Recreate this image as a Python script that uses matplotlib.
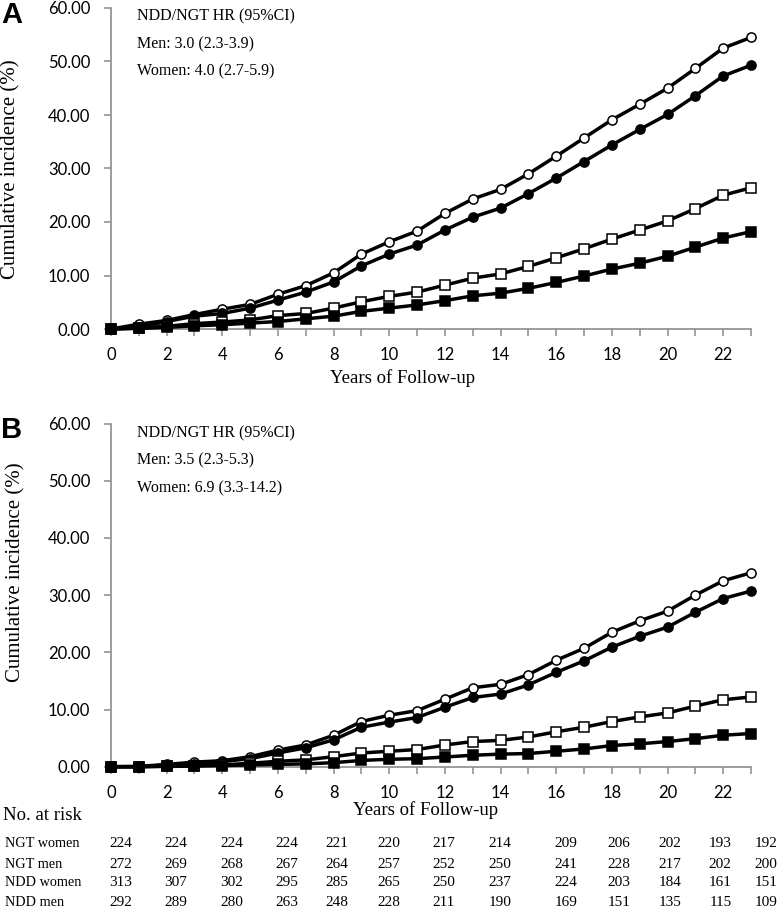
import matplotlib
matplotlib.use("Agg")
import matplotlib.pyplot as plt

W, H = 777, 907

# ===== data =====
years = list(range(24))

# panel A
a_ndd_women = [0, 0.9, 1.6, 2.7, 3.7, 4.6, 6.5, 8.1, 10.5, 14.0, 16.3, 18.3, 21.6, 24.3,
               26.1, 29.0, 32.3, 35.7, 39.1, 42.0, 45.0, 48.7, 52.5, 54.5]
a_ndd_men = [0, 0.3, 1.4, 2.4, 2.9, 3.9, 5.4, 6.9, 8.8, 11.8, 14.0, 15.7, 18.5, 20.9,
             22.6, 25.3, 28.2, 31.3, 34.4, 37.3, 40.1, 43.6, 47.3, 49.3]
a_ngt_women = [0, 0.2, 0.5, 1.0, 1.3, 1.7, 2.5, 2.9, 3.9, 5.1, 6.1, 6.9, 8.2, 9.5,
               10.3, 11.7, 13.3, 15.0, 16.8, 18.5, 20.2, 22.5, 25.0, 26.4]
a_ngt_men = [0, 0.1, 0.3, 0.6, 0.8, 1.1, 1.4, 1.9, 2.4, 3.3, 3.9, 4.5, 5.3, 6.2,
             6.7, 7.6, 8.7, 9.9, 11.2, 12.3, 13.6, 15.3, 17.0, 18.2]

# panel B
b_ndd_women = [0, 0.05, 0.4, 0.8, 1.05, 1.75, 2.9, 3.8, 5.5, 7.9, 9.0, 9.8, 11.8, 13.8,
               14.4, 16.1, 18.6, 20.7, 23.5, 25.5, 27.2, 30.0, 32.5, 33.9]
b_ndd_men = [0, 0, 0.3, 0.5, 0.9, 1.4, 2.4, 3.3, 4.7, 6.9, 7.8, 8.6, 10.4, 12.1,
             12.7, 14.3, 16.5, 18.5, 20.9, 22.8, 24.4, 27.0, 29.4, 30.7]
b_ngt_women = [0, 0, 0.1, 0.2, 0.3, 0.6, 0.95, 1.2, 1.75, 2.4, 2.7, 3.0, 3.8, 4.4,
               4.6, 5.2, 6.1, 6.9, 7.9, 8.7, 9.4, 10.6, 11.7, 12.2]
b_ngt_men = [0, 0, 0.05, 0.1, 0.2, 0.3, 0.4, 0.5, 0.7, 1.1, 1.3, 1.4, 1.7, 2.0,
             2.2, 2.3, 2.7, 3.1, 3.7, 4.0, 4.4, 4.9, 5.5, 5.8]

hr_a = ["NDD/NGT HR (95%CI)", "Men: 3.0 (2.3-3.9)", "Women: 4.0 (2.7-5.9)"]
hr_b = ["NDD/NGT HR (95%CI)", "Men: 3.5 (2.3-5.3)", "Women: 6.9 (3.3-14.2)"]

risk_groups = ["NGT women", "NGT men", "NDD women", "NDD men"]
risk_counts = [
    [224, 224, 224, 224, 221, 220, 217, 214, 209, 206, 202, 193, 192],
    [272, 269, 268, 267, 264, 257, 252, 250, 241, 228, 217, 202, 200],
    [313, 307, 302, 295, 285, 265, 250, 237, 224, 203, 184, 161, 151],
    [292, 289, 280, 263, 248, 228, 211, 190, 169, 151, 135, 115, 109],
]

SERIF = "Liberation Serif"
SANS = "Lato"
GRAY = "#8c8c8c"


def fx(px):
    return px / W


def fy(py):
    return 1 - py / H


def draw_panel(ax, series):
    for vals, marker, face in series:
        ax.plot(years, vals, color="black", lw=2.5, marker=marker, ms=6.6,
                mfc=face, mec="black", mew=1.1, clip_on=False, zorder=3)
    ax.set_xlim(0, 23)
    ax.set_ylim(0, 60)
    ax.set_xticks(range(0, 24))
    ax.set_xticklabels([str(i) if i % 2 == 0 and i < 23 else "" for i in range(24)])
    ax.set_yticks(range(0, 61, 10))
    ax.set_yticklabels(["%.2f" % v for v in range(0, 61, 10)])
    for s in ["top", "right"]:
        ax.spines[s].set_visible(False)
    for s in ["left", "bottom"]:
        ax.spines[s].set_color(GRAY)
        ax.spines[s].set_linewidth(1.2)
    ax.tick_params(axis="y", direction="out", length=5, width=1.1, color=GRAY,
                   pad=10, labelsize=12)
    ax.tick_params(axis="x", direction="out", length=5, width=1.1, color=GRAY,
                   pad=8, labelsize=12)
    for lab in ax.get_xticklabels() + ax.get_yticklabels():
        lab.set_fontfamily(SANS)
    ax.set_facecolor("none")


fig = plt.figure(figsize=(W / 100, H / 100), dpi=100)

axA = fig.add_axes([fx(111), fy(329), fx(751) - fx(111), (329 - 8) / H])
draw_panel(axA, [(a_ndd_women, "o", "white"), (a_ndd_men, "o", "black"),
                 (a_ngt_women, "s", "white"), (a_ngt_men, "s", "black")])

axB = fig.add_axes([fx(111), fy(766.7), fx(751) - fx(111), (766.7 - 423.5) / H])
draw_panel(axB, [(b_ndd_women, "o", "white"), (b_ndd_men, "o", "black"),
                 (b_ngt_women, "s", "white"), (b_ngt_men, "s", "black")])

# y labels
fig.text(fx(11), fy(169), "Cumulative incidence (%)", fontfamily=SERIF, fontsize=15,
         rotation=90, va="center", ha="center")
fig.text(fx(16), fy(572), "Cumulative incidence (%)", fontfamily=SERIF, fontsize=15,
         rotation=90, va="center", ha="center")

# panel letters
fig.text(fx(1), fy(15), "A", fontfamily="Liberation Sans", fontweight="bold",
         fontsize=21, va="center", ha="left")
fig.text(fx(1), fy(430), "B", fontfamily="Liberation Sans", fontweight="bold",
         fontsize=21, va="center", ha="left")

# HR annotations
for i, line in enumerate(hr_a):
    fig.text(fx(137), fy(16.7 + 27.5 * i), line, fontfamily=SERIF, fontsize=11.5,
             va="center", ha="left")
for i, line in enumerate(hr_b):
    fig.text(fx(137), fy(433.3 + 27.5 * i), line, fontfamily=SERIF, fontsize=11.5,
             va="center", ha="left")

# x labels
fig.text(fx(403), fy(378), "Years of Follow-up", fontfamily=SERIF, fontsize=13.5,
         va="center", ha="center")
fig.text(fx(426), fy(810), "Years of Follow-up", fontfamily=SERIF, fontsize=13.5,
         va="center", ha="center")

# no. at risk table
fig.text(fx(3), fy(816), "No. at risk", fontfamily=SERIF, fontsize=13.5,
         va="center", ha="left")
col_x = [120.7, 176, 231.7, 286.7, 337.3, 389, 443.7, 500.3, 566, 618.7, 670.3, 720.3, 766]
row_y = [843.3, 864, 883, 902]
for name, counts, y in zip(risk_groups, risk_counts, row_y):
    fig.text(fx(5), fy(y), name, fontfamily=SERIF, fontsize=10.3, va="center", ha="left")
    for x, c in zip(col_x, counts):
        fig.text(fx(x), fy(y), str(c), fontfamily=SERIF, fontsize=11,
                 va="center", ha="center")

fig.savefig("out.png", dpi=100)
